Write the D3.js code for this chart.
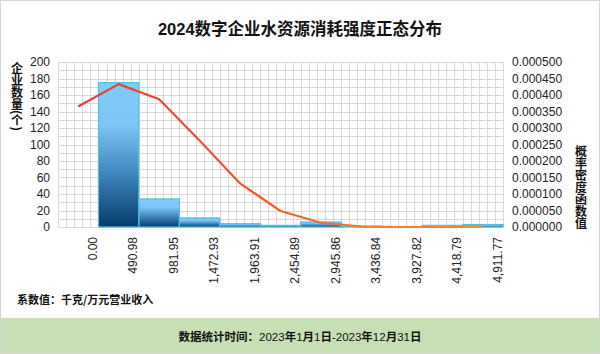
<!DOCTYPE html>
<html>
<head>
<meta charset="utf-8">
<script src="https://cdn.jsdelivr.net/npm/d3@7"></script>
<style>
  body { margin: 0; background: #fff; }
  svg { display: block; font-family: "Liberation Sans", "Noto Sans CJK SC", sans-serif; }
  .tick-label { font-size: 12px; fill: #222; }
  .axis-title { font-size: 12px; font-weight: bold; fill: #111; font-family: "Noto Sans CJK SC", sans-serif; }
</style>
</head>
<body>
<svg id="chart"></svg>
<script>
// bin edges shown on the x axis
const binLabels = ['0.00', '490.98', '981.95', '1,472.93', '1,963.91', '2,454.89',
  '2,945.86', '3,436.84', '3,927.82', '4,418.79', '4,911.77'];
// number of companies in each bin
const counts = [175, 34, 11, 4, 2, 6, 1, 0, 2, 3];
// normal density, one point per slot centre (first slot is the empty one left of 0)
const density = [0.000365, 0.000433, 0.000387, 0.000262, 0.000132, 0.0000485,
  0.000013, 0.0000015, 0, 0, 0];
const countTicks = [0, 20, 40, 60, 80, 100, 120, 140, 160, 180, 200];
const densityTicks = [0, 0.00005, 0.0001, 0.00015, 0.0002, 0.00025, 0.0003,
  0.00035, 0.0004, 0.00045, 0.0005];

const width = 600, height = 354;
const plot = {left: 58, right: 503, top: 62, bottom: 227};

const svg = d3.select('#chart')
    .attr('width', width)
    .attr('height', height);

const defs = svg.append('defs');

const barGrad = defs.append('linearGradient')
    .attr('id', 'barGrad')
    .attr('x1', 0).attr('y1', 0).attr('x2', 0).attr('y2', 1);
barGrad.append('stop').attr('offset', '0%').attr('stop-color', '#82cbfa');
barGrad.append('stop').attr('offset', '30%').attr('stop-color', '#7cc4f4');
barGrad.append('stop').attr('offset', '65%').attr('stop-color', '#3a82ba');
barGrad.append('stop').attr('offset', '100%').attr('stop-color', '#063b6b');

const lineGrad = defs.append('linearGradient')
    .attr('id', 'lineGrad')
    .attr('gradientUnits', 'userSpaceOnUse')
    .attr('x1', plot.left).attr('y1', 0).attr('x2', plot.right).attr('y2', 0);
lineGrad.append('stop').attr('offset', '0%').attr('stop-color', '#e8363c');
lineGrad.append('stop').attr('offset', '45%').attr('stop-color', '#ef5a2e');
lineGrad.append('stop').attr('offset', '70%').attr('stop-color', '#f37a2c');
lineGrad.append('stop').attr('offset', '100%').attr('stop-color', '#f58b2e');

// background + frame
svg.append('rect')
    .attr('x', 0.5).attr('y', 0.5)
    .attr('width', width - 1).attr('height', height - 1)
    .attr('fill', '#fff')
    .attr('stroke', '#d4d4d4');

// footer band
svg.append('rect')
    .attr('x', 1).attr('y', 318)
    .attr('width', width - 2).attr('height', height - 319)
    .attr('fill', '#c6e0b4');

// scales: index -1..10 covers the empty first slot plus 10 bins
const x = d3.scaleLinear().domain([-1, 10]).range([plot.left, plot.right]);
const y = d3.scaleLinear().domain([0, 200]).range([plot.bottom, plot.top]);
const y2 = d3.scaleLinear().domain([0, 0.0005]).range([plot.bottom, plot.top]);

// grid
const grid = svg.append('g').attr('stroke', '#d9d9d9').attr('stroke-width', 1);
grid.selectAll('.h')
    .data(d3.range(0, 201, 10))
    .join('line')
      .attr('x1', plot.left).attr('x2', plot.right)
      .attr('y1', d => Math.round(y(d)) + 0.5)
      .attr('y2', d => Math.round(y(d)) + 0.5);
grid.selectAll('.v')
    .data(d3.range(0, 56))
    .join('line')
      .attr('x1', d => Math.round(x(-1 + d * 0.2)) + 0.5)
      .attr('x2', d => Math.round(x(-1 + d * 0.2)) + 0.5)
      .attr('y1', plot.top).attr('y2', plot.bottom);

// histogram bars
svg.append('g').selectAll('rect')
    .data(counts)
    .join('rect')
      .attr('x', (d, i) => x(i))
      .attr('y', d => y(d))
      .attr('width', x(1) - x(0))
      .attr('height', d => Math.max(0.01, y(0) - y(d)))
      .attr('fill', 'url(#barGrad)')
      .attr('stroke', '#4cc3d8')
      .attr('stroke-width', 1.2);

// density curve
const line = d3.line()
    .x((d, i) => x(i - 0.5))
    .y(d => y2(d));
svg.append('path')
    .datum(density)
    .attr('d', line)
    .attr('fill', 'none')
    .attr('stroke', 'url(#lineGrad)')
    .attr('stroke-width', 2.2)
    .attr('stroke-linejoin', 'round');

// left axis labels
const yAxis = d3.axisLeft(y).tickValues(countTicks).tickSize(0).tickPadding(0);
svg.append('g')
    .attr('transform', 'translate(50,0)')
    .call(yAxis)
    .call(g => g.select('.domain').remove())
    .call(g => g.selectAll('text').attr('class', 'tick-label')
        .attr('font-family', null).attr('font-size', null).attr('fill', null));

// right axis labels
const y2Axis = d3.axisRight(y2).tickValues(densityTicks).tickSize(0).tickPadding(0)
    .tickFormat(d3.format('.6f'));
svg.append('g')
    .attr('transform', 'translate(512,0)')
    .call(y2Axis)
    .call(g => g.select('.domain').remove())
    .call(g => g.selectAll('text').attr('class', 'tick-label')
        .attr('font-family', null).attr('font-size', null).attr('fill', null));

// x labels, rotated
svg.append('g').selectAll('text')
    .data(binLabels)
    .join('text')
      .attr('class', 'tick-label')
      .attr('text-anchor', 'end')
      .attr('transform', (d, i) => `translate(${x(i) - 1.5},237) rotate(-90)`)
      .text(d => d);

// titles
svg.append('text')
    .attr('x', 300).attr('y', 35)
    .attr('text-anchor', 'middle')
    .style('font-size', '16.5px')
    .style('font-weight', 'bold')
    .attr('fill', '#111')
    .text('2024数字企业水资源消耗强度正态分布');

// vertical axis titles
svg.append('text')
    .attr('class', 'axis-title')
    .attr('x', 17).attr('y', 62)
    .style('writing-mode', 'vertical-rl')
    .text('企业数量(个)');

svg.append('text')
    .attr('class', 'axis-title')
    .attr('x', 581).attr('y', 145)
    .style('writing-mode', 'vertical-rl')
    .text('概率密度函数值');

svg.append('text')
    .attr('x', 17).attr('y', 304)
    .style('font-size', '11px')
    .style('font-weight', 'bold')
    .style('font-family', '"Noto Sans CJK SC", sans-serif')
    .attr('fill', '#111')
    .text('系数值：千克/万元营业收入');

const foot = svg.append('text')
    .attr('x', 300).attr('y', 341)
    .attr('text-anchor', 'middle')
    .style('font-size', '11.5px')
    .attr('fill', '#111');
[['数据统计时间：', true], ['2023', false], ['年', true], ['1', false], ['月', true],
 ['1', false], ['日', true], ['-2023', false], ['年', true], ['12', false],
 ['月', true], ['31', false], ['日', true]].forEach(([t, bold]) => {
  foot.append('tspan')
      .style('font-weight', bold ? 'bold' : 'normal')
      .style('font-family', bold ? '"Noto Sans CJK SC", sans-serif' : '"Liberation Sans", sans-serif')
      .text(t);
});
</script>
</body>
</html>
